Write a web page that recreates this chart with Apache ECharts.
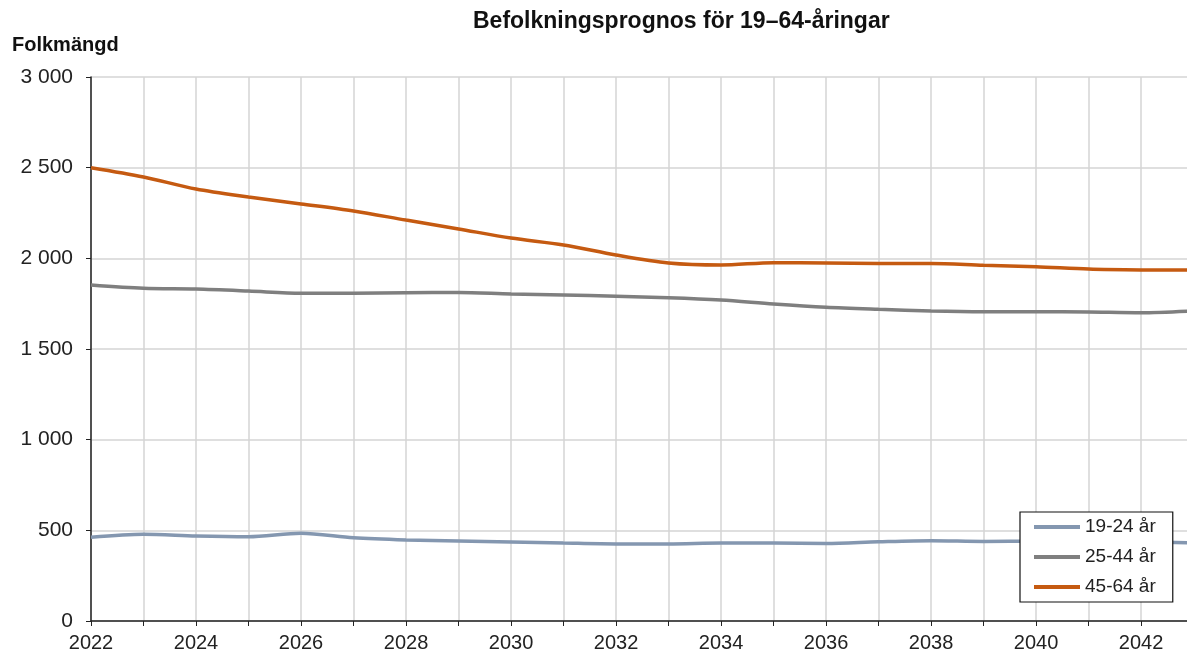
<!DOCTYPE html>
<html>
<head>
<meta charset="utf-8">
<script src="https://cdn.jsdelivr.net/npm/echarts@6/dist/echarts.min.js"></script>
<style>html,body{margin:0;padding:0;background:#fff}#c{width:1187px;height:657px}</style>
</head>
<body>
<div id="c"></div>
<script>
var years = [2022,2023,2024,2025,2026,2027,2028,2029,2030,2031,2032,2033,2034,2035,2036,2037,2038,2039,2040,2041,2042,2043];
var age19_24 = [462,478,469,465,484,459,447,441,436,430,425,425,430,430,428,437,443,439,440,440,437,430];
var age25_44 = [1853,1835,1831,1820,1807,1807,1810,1812,1803,1798,1791,1783,1770,1748,1730,1719,1710,1706,1706,1704,1700,1710];
var age45_64 = [2500,2449,2382,2338,2300,2261,2211,2162,2112,2074,2018,1974,1963,1976,1974,1972,1972,1962,1954,1941,1936,1935];
var seriesNames = ['19-24 år','25-44 år','45-64 år'];
var colors = ['#8497b0','#7f7f7f','#c55a11'];

function pairs(arr){ return arr.map(function(v,i){ return [years[i], v]; }); }
var font = "'Liberation Sans', Arial, sans-serif";
var chart = echarts.init(document.getElementById('c'));
chart.setOption({
  animation: false,
  textStyle: { fontFamily: font },
  title: [
    { text: 'Befolkningsprognos för 19–64-åringar', left: 468, top: 5,
      textStyle: { fontSize: 23, fontWeight: 'bold', color: '#111', fontFamily: font } },
    { text: 'Folkmängd', left: 7, top: 30,
      textStyle: { fontSize: 20, fontWeight: 'bold', color: '#111', fontFamily: font } }
  ],
  grid: { left: 91, top: 77, bottom: 36, right: 0, containLabel: false },
  xAxis: {
    type: 'value', min: 2022, max: 2042.876, interval: 1,
    axisLine: { show: true, lineStyle: { color: '#222', width: 1.5 } },
    axisTick: { show: true, length: 5, lineStyle: { color: '#222' } },
    axisLabel: { color: '#222', fontSize: 20, margin: 12, fontFamily: font, showMaxLabel: false,
      formatter: function(v){ return (Math.abs(v - Math.round(v)) < 1e-6 && Math.round(v) % 2 === 0) ? String(Math.round(v)) : ''; } },
    splitLine: { show: true, showMaxLine: false, lineStyle: { color: '#d4d4d4', width: 1.5 } }
  },
  yAxis: {
    type: 'value', min: 0, max: 3000, interval: 500,
    axisLine: { show: true, lineStyle: { color: '#222', width: 1.5 } },
    axisTick: { show: true, length: 5, lineStyle: { color: '#222' } },
    axisLabel: { color: '#222', fontSize: 21, margin: 18, fontFamily: font,
      formatter: function(v){ return String(v).replace(/\B(?=(\d{3})+(?!\d))/g, ' '); } },
    splitLine: { show: true, lineStyle: { color: '#d4d4d4', width: 1.5 } }
  },
  legend: {
    orient: 'vertical', left: 1020, top: 512,
    backgroundColor: '#fff', borderColor: '#111', borderWidth: 1.2,
    padding: [4, 17, 4, 14], itemGap: 8,
    itemWidth: 46, itemHeight: 4, itemTextGap: 5,
    icon: 'rect',
    textStyle: { fontSize: 19, color: '#222', lineHeight: 22, fontFamily: font },
    data: seriesNames
  },
  series: [
    { name: seriesNames[0], type: 'line', data: pairs(age19_24), smooth: 0.3, showSymbol: false, symbol: 'none', clip: true,
      lineStyle: { width: 3.5, color: colors[0] }, itemStyle: { color: colors[0] }, z: 3 },
    { name: seriesNames[1], type: 'line', data: pairs(age25_44), smooth: 0.3, showSymbol: false, symbol: 'none', clip: true,
      lineStyle: { width: 3.5, color: colors[1] }, itemStyle: { color: colors[1] }, z: 3 },
    { name: seriesNames[2], type: 'line', data: pairs(age45_64), smooth: 0.3, showSymbol: false, symbol: 'none', clip: true,
      lineStyle: { width: 3.5, color: colors[2] }, itemStyle: { color: colors[2] }, z: 3 }
  ]
});
</script>
</body>
</html>
